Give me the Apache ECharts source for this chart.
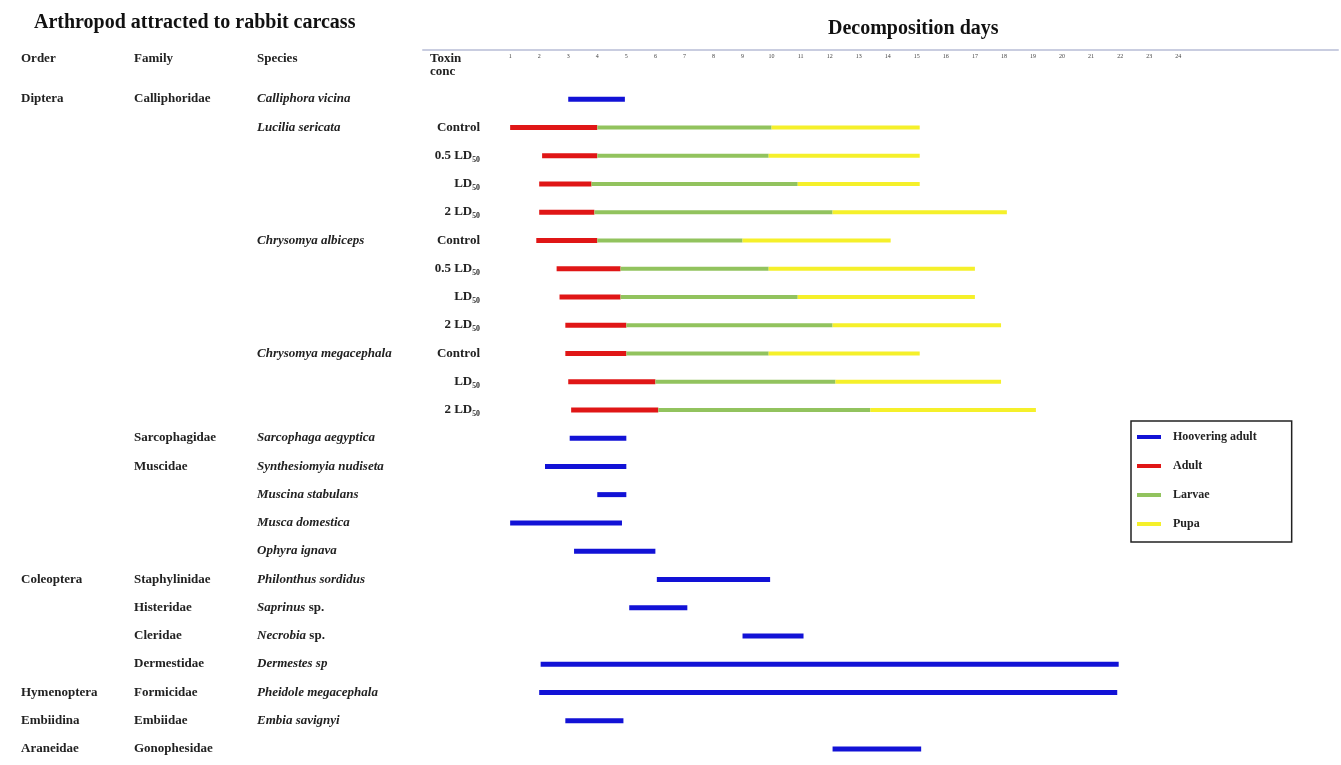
<!DOCTYPE html>
<html>
<head>
<meta charset="utf-8">
<title>Arthropod attracted to rabbit carcass</title>
<script src="https://cdn.jsdelivr.net/npm/echarts@6/dist/echarts.min.js"></script>
<style>
  html, body { margin: 0; padding: 0; background: #fff; }
  #main { width: 1341px; height: 765px; }
</style>
</head>
<body>
<div id="main"></div>
<script>
// row labels (one per row, top to bottom)
var orderNames = ['Diptera', '', '', '', '', '', '', '', '', '', '', '', '', '', '', '', '',
    'Coleoptera', '', '', '', 'Hymenoptera', 'Embiidina', 'Araneidae'];
var familyNames = ['Calliphoridae', '', '', '', '', '', '', '', '', '', '', '', 'Sarcophagidae', 'Muscidae', '', '', '',
    'Staphylinidae', 'Histeridae', 'Cleridae', 'Dermestidae', 'Formicidae', 'Embiidae', 'Gonophesidae'];
var speciesNames = ['Calliphora vicina', 'Lucilia sericata', '', '', '', 'Chrysomya albiceps', '', '', '',
    'Chrysomya megacephala', '', '', 'Sarcophaga aegyptica', 'Synthesiomyia nudiseta', 'Muscina stabulans',
    'Musca domestica', 'Ophyra ignava', 'Philonthus sordidus', 'Saprinus sp.', 'Necrobia sp.', 'Dermestes sp',
    'Pheidole megacephala', 'Embia savignyi', ''];
var toxinNames = ['', 'Control', '0.5 LD₅₀', 'LD₅₀', '2 LD₅₀', 'Control', '0.5 LD₅₀', 'LD₅₀', '2 LD₅₀',
    'Control', 'LD₅₀', '2 LD₅₀', '', '', '', '', '', '', '', '', '', '', '', ''];

var dayTicks = [1, 2, 3, 4, 5, 6, 7, 8, 9, 10, 11, 12, 13, 14, 15, 16, 17, 18, 19, 20, 21, 22, 23, 24];

// hoovering adults: [row, first day, last day]
var hoverData = [
    [0, 3, 4.95], [12, 3.05, 5], [13, 2.2, 5], [14, 4, 5], [15, 1, 4.85], [16, 3.2, 6],
    [17, 6.05, 9.95], [18, 5.1, 7.1], [19, 9, 11.1], [20, 2.05, 21.95], [21, 2, 21.9],
    [22, 2.9, 4.9], [23, 12.1, 15.15]
];

// developmental stages on the carcass
var stageRows   = [1, 2, 3, 4, 5, 6, 7, 8, 9, 10, 11];
var adultStart  = [1, 2.1, 2, 2, 1.9, 2.6, 2.7, 2.9, 2.9, 3, 3.1];
var larvaeStart = [4, 4, 3.8, 3.9, 4, 4.8, 4.8, 5, 5, 6, 6.1];
var pupaStart   = [10, 9.9, 10.9, 12.1, 9, 9.9, 10.9, 12.1, 9.9, 12.2, 13.4];
var pupaEnd     = [15.1, 15.1, 15.1, 18.1, 14.1, 17, 17, 17.9, 15.1, 17.9, 19.1];

var adultData = [], larvaeData = [], pupaData = [];
for (var i = 0; i < stageRows.length; i++) {
    adultData.push([stageRows[i], adultStart[i], larvaeStart[i]]);
    larvaeData.push([stageRows[i], larvaeStart[i], pupaStart[i]]);
    pupaData.push([stageRows[i], pupaStart[i], pupaEnd[i]]);
}

var serif = 'Liberation Serif';

function barRender(h) {
    return function (params, api) {
        var s = api.coord([api.value(1), api.value(0)]);
        var e = api.coord([api.value(2), api.value(0)]);
        return {
            type: 'rect',
            shape: { x: s[0], y: s[1] - h / 2, width: e[0] - s[0], height: h },
            style: { fill: api.visual('color') }
        };
    };
}

function rowAxis(names, offset, align, extra) {
    var label = {
        interval: 0,
        align: align,
        margin: 0,
        fontFamily: serif,
        fontWeight: 'bold',
        fontSize: 13,
        color: '#222'
    };
    for (var k in extra) label[k] = extra[k];
    return {
        type: 'category',
        data: names,
        inverse: true,
        position: 'left',
        offset: offset,
        axisLine: { show: false },
        axisTick: { show: false },
        splitLine: { show: false },
        axisLabel: label
    };
}

var chart = echarts.init(document.getElementById('main'));
var option = {
    backgroundColor: '#fff',
    animation: false,
    title: [
        { text: 'Arthropod attracted to rabbit carcass', left: 29, top: 8,
          textStyle: { fontFamily: serif, fontSize: 20, fontWeight: 'bold', color: '#111' } },
        { text: 'Decomposition days', left: 823, top: 14,
          textStyle: { fontFamily: serif, fontSize: 20, fontWeight: 'bold', color: '#111' } },
        { text: 'Order', left: 21, top: 52, padding: 0,
          textStyle: { fontFamily: serif, fontSize: 13, fontWeight: 'bold', color: '#222' } },
        { text: 'Family', left: 134, top: 52, padding: 0,
          textStyle: { fontFamily: serif, fontSize: 13, fontWeight: 'bold', color: '#222' } },
        { text: 'Species', left: 257, top: 52, padding: 0,
          textStyle: { fontFamily: serif, fontSize: 13, fontWeight: 'bold', color: '#222' } },
        { text: 'Toxin\nconc', left: 430, top: 52, padding: 0,
          textStyle: { fontFamily: serif, fontSize: 13, fontWeight: 'bold', color: '#222', lineHeight: 13 } }
    ],
    legend: {
        orient: 'vertical',
        left: 1131,
        top: 421,
        data: ['Hoovering adult', 'Adult', 'Larvae', 'Pupa'],
        icon: 'rect',
        itemWidth: 24,
        itemHeight: 4,
        itemGap: 17,
        padding: [10, 35, 12, 6],
        borderColor: '#222',
        borderWidth: 1.5,
        selectedMode: false,
        textStyle: { fontFamily: serif, fontSize: 12, fontWeight: 'bold', color: '#222', padding: [0, 0, 0, 7] }
    },
    grid: { left: 423, right: 3, top: 85, bottom: 2, outerBoundsMode: 'none' },
    xAxis: {
        type: 'value',
        position: 'top',
        min: -2,
        max: 29.5,
        interval: 1,
        offset: 35,
        axisLine: { show: true, lineStyle: { color: '#c9cde0', width: 2 } },
        axisTick: { show: false },
        splitLine: { show: false },
        axisLabel: {
            inside: true,
            margin: 3,
            fontSize: 6,
            fontFamily: serif,
            color: '#444',
            formatter: function (v) { return dayTicks.indexOf(v) >= 0 ? String(v) : ''; }
        }
    },
    yAxis: [
        rowAxis(orderNames, 402, 'left', {}),
        rowAxis(familyNames, 289, 'left', {}),
        rowAxis(speciesNames, 166, 'left', {
            fontStyle: 'italic',
            formatter: function (v) { return v.replace(' sp.', '{n| sp.}'); },
            rich: { n: { fontStyle: 'normal', fontWeight: 'bold', fontFamily: serif, fontSize: 13, color: '#222' } }
        }),
        rowAxis(toxinNames, -57, 'right', {})
    ],
    series: [
        { type: 'custom', name: 'Hoovering adult', renderItem: barRender(5), data: hoverData,
          encode: { x: [1, 2], y: 0 }, yAxisIndex: 3, itemStyle: { color: '#1212d6' } },
        { type: 'custom', name: 'Adult', renderItem: barRender(5), data: adultData,
          encode: { x: [1, 2], y: 0 }, yAxisIndex: 3, itemStyle: { color: '#e01616' } },
        { type: 'custom', name: 'Larvae', renderItem: barRender(4), data: larvaeData,
          encode: { x: [1, 2], y: 0 }, yAxisIndex: 3, itemStyle: { color: '#92c35e' } },
        { type: 'custom', name: 'Pupa', renderItem: barRender(4), data: pupaData,
          encode: { x: [1, 2], y: 0 }, yAxisIndex: 3, itemStyle: { color: '#f5f02a' } }
    ]
};
chart.setOption(option);
</script>
</body>
</html>
